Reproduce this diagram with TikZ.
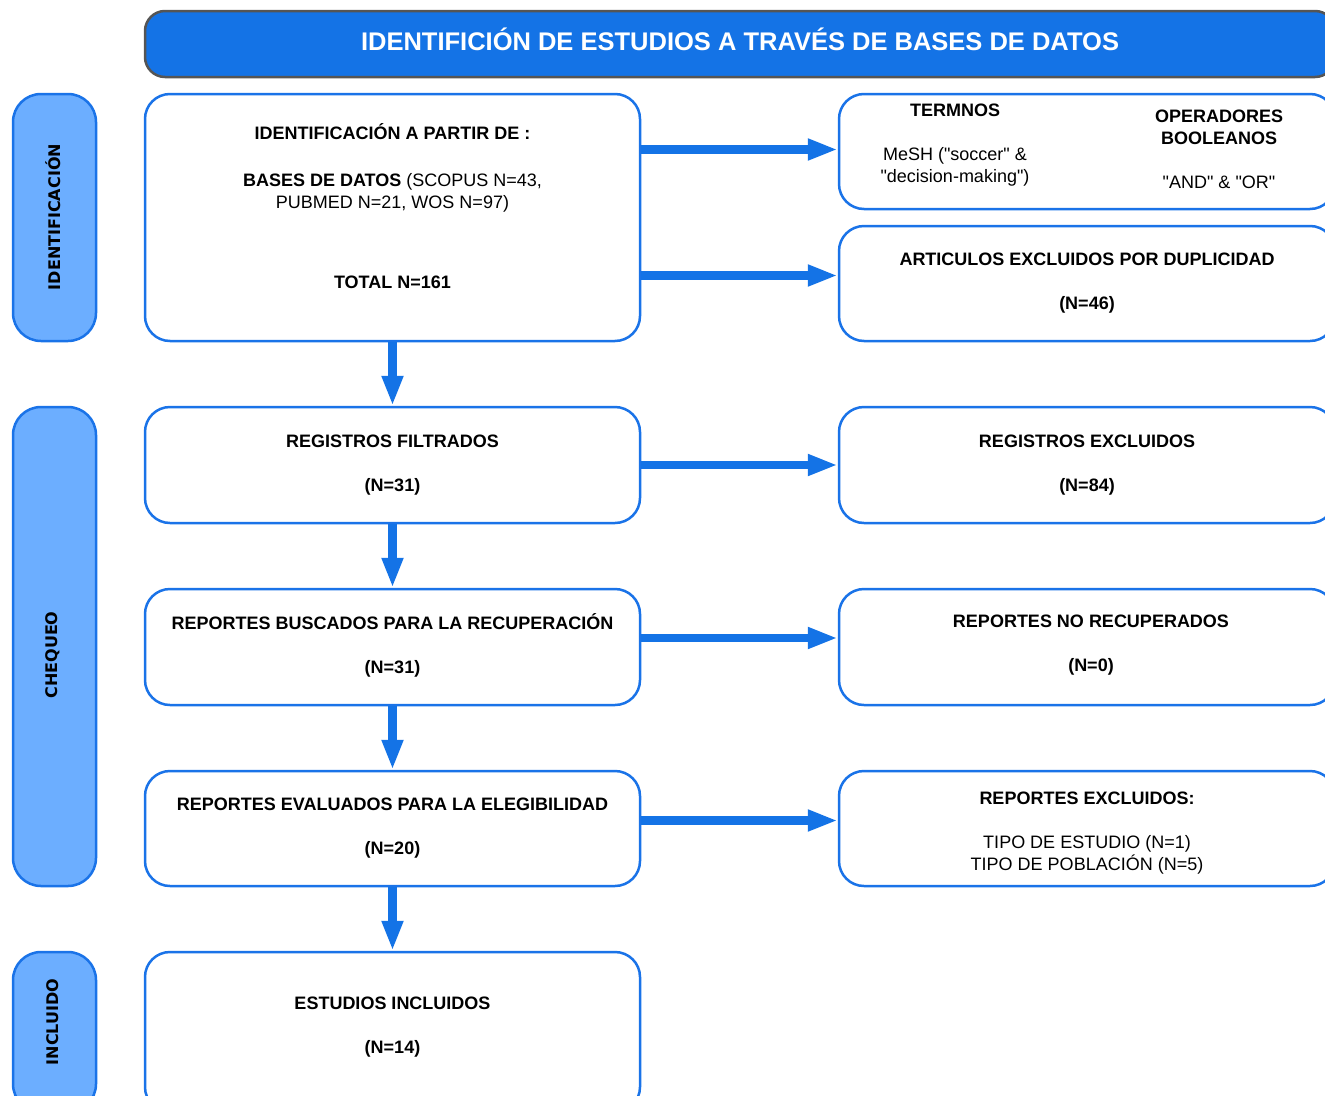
\documentclass[tikz,border=0pt]{standalone}
\usepackage{fontspec}
\setmainfont{Liberation Sans}
\newfontfamily\sidefont{DejaVu Sans}
\usetikzlibrary{arrows.meta,positioning}

\definecolor{hdrblue}{RGB}{20,115,230}
\definecolor{sideblue}{RGB}{108,174,255}
\definecolor{lineblue}{RGB}{26,115,232}
\definecolor{hdrgray}{RGB}{85,85,85}

\newcommand{\qt}{\textquotedbl}

\tikzset{
	box/.style={draw=lineblue, line width=2.5pt, rounded corners=25pt, fill=white,
		inner sep=0pt, align=center, font=\fontsize{18}{22}\selectfont},
	leftbox/.style={box, minimum width=495pt},
	rightbox/.style={box, minimum width=496pt},
	side/.style={draw=lineblue, line width=2.5pt, fill=sideblue, rounded corners=28pt,
		minimum width=83pt, inner sep=0pt},
	sidetext/.style={rotate=90, font=\sidefont\bfseries\fontsize{16}{18}\selectfont},
	txt/.style={align=center, inner sep=0pt, font=\fontsize{18}{22}\selectfont},
	flow/.style={draw=hdrblue, line width=8.5pt, -{Triangle[length=30pt,width=20pt]}},
}

\begin{document}
\begin{tikzpicture}[x=1pt, y=-1pt]

		\useasboundingbox (0,0) rectangle (1325,1095);
		\clip (0,0) rectangle (1325,1095);

		% Draw the title bar
		\node[draw=hdrgray, line width=2.5pt, fill=hdrblue, rounded corners=20pt,
			minimum width=1190pt, minimum height=66pt, inner sep=0pt,
			text height=18pt, text depth=6pt,
			text=white, font=\bfseries\fontsize{25.5}{30}\selectfont]
			(title) at (740,44) {IDENTIFICIÓN DE ESTUDIOS A TRAVÉS DE BASES DE DATOS};

		% Draw the phase labels on the left
		\node[side, minimum height=247pt] (sid) at (54.5,217.5) {};
		\node[sidetext] (sidt) at (53,217) {IDENTIFICACIÓN};
		\node[side, minimum height=479pt] (sch) at (54.5,646.5) {};
		\node[sidetext] (scht) at (53,655) {CHEQUEO};
		\node[side, minimum height=160pt] (sin) at (54.5,1032) {};
		\node[sidetext] (sint) at (53,1022) {INCLUIDO};

		% Draw the boxes of the main column
		\node[leftbox, minimum height=247pt] (ident) at (392.5,217.5) {};
		\node[txt] (identt) at (392.5,206) {\textbf{IDENTIFICACIÓN A PARTIR DE :}\\[25pt]
			\textbf{BASES DE DATOS} (SCOPUS N=43,\\ PUBMED N=21, WOS N=97)\\[58pt]
			\textbf{TOTAL N=161}};
		\node[leftbox, minimum height=116pt] (reg) at (392.5,465)
			{\textbf{REGISTROS FILTRADOS}\\[22pt]\textbf{(N=31)}};
		\node[leftbox, minimum height=116pt] (busc) at (392.5,647) {};
		\node[txt] (busct) at (392.5,645)
			{\textbf{REPORTES BUSCADOS PARA LA RECUPERACIÓN}\\[22pt]\textbf{(N=31)}};
		\node[leftbox, minimum height=115pt] (eval) at (392.5,828.5)
			{\textbf{REPORTES EVALUADOS PARA LA ELEGIBILIDAD}\\[22pt]\textbf{(N=20)}};
		\node[leftbox, minimum height=160pt] (incl) at (392.5,1032) {};
		\node[txt] (inclt) at (392.5,1027) {\textbf{ESTUDIOS INCLUIDOS}\\[22pt]\textbf{(N=14)}};

		% Draw the boxes of the right column
		\node[rightbox, minimum height=115pt] (terms) at (1087,151.5) {};
		\node[txt] (termt) at (955,110) {\textbf{TERMNOS}};
		\node[txt] (mesh) at (955,167) {MeSH (\qt soccer\qt{} \&\\ \qt decision-making\qt)};
		\node[txt] (opert) at (1219,127) {\textbf{OPERADORES}\\ \textbf{BOOLEANOS}};
		\node[txt] (bool) at (1219,182) {\qt AND\qt{} \& \qt OR\qt};
		\node[rightbox, minimum height=115pt] (dup) at (1087,283.5)
			{\textbf{ARTICULOS EXCLUIDOS POR DUPLICIDAD}\\[22pt]\textbf{(N=46)}};
		\node[rightbox, minimum height=116pt] (regex) at (1087,465)
			{\textbf{REGISTROS EXCLUIDOS}\\[22pt]\textbf{(N=84)}};
		\node[rightbox, minimum height=116pt] (norec) at (1087,647) {};
		\node[txt] (norect) at (1091,645) {\textbf{REPORTES NO RECUPERADOS}\\[22pt]\textbf{(N=0)}};
		\node[rightbox, minimum height=115pt] (repex) at (1087,828.5) {};
		\node[txt] (repext) at (1087,833.5)
			{\textbf{REPORTES EXCLUIDOS:}\\[22pt]TIPO DE ESTUDIO (N=1)\\ TIPO DE POBLACIÓN (N=5)};

		% Draw the arrows down the main column
		\draw[flow] (ident.south) -- (reg.north);
		\draw[flow] (reg.south) -- (busc.north);
		\draw[flow] (busc.south) -- (eval.north);
		\draw[flow] (eval.south) -- (incl.north);

		% Draw the arrows to the right column
		\coordinate (termsin) at ([yshift=2pt]terms.west);
		\coordinate (dupin) at ([yshift=8pt]dup.west);
		\coordinate (norecin) at ([yshift=9pt]norec.west);
		\coordinate (repexin) at ([yshift=8pt]repex.west);
		\draw[flow] (ident.east |- termsin) -- (termsin);
		\draw[flow] (ident.east |- dupin) -- (dupin);
		\draw[flow] (reg.east) -- (regex.west);
		\draw[flow] (busc.east |- norecin) -- (norecin);
		\draw[flow] (eval.east |- repexin) -- (repexin);

	\end{tikzpicture}
\end{document}
